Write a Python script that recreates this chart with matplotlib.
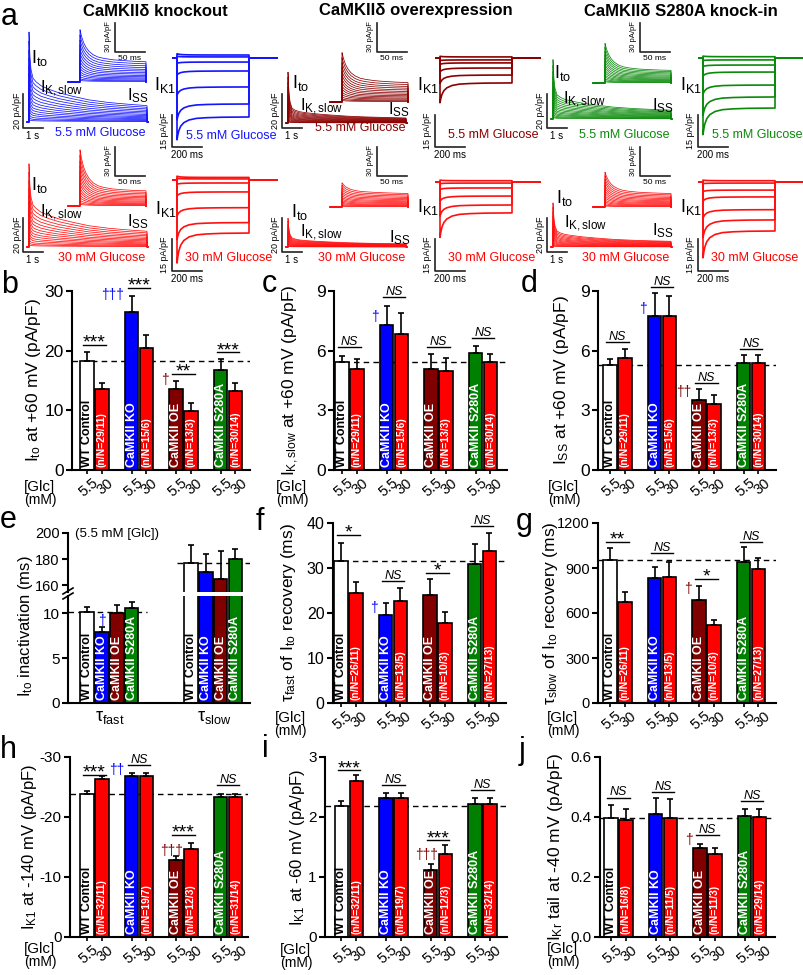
import matplotlib.pyplot as plt
from matplotlib.lines import Line2D
from matplotlib import transforms

plt.rcParams['font.family'] = ['Liberation Sans', 'DejaVu Sans']
plt.rcParams['mathtext.fontset'] = 'custom'
plt.rcParams['mathtext.rm'] = 'Liberation Sans'
plt.rcParams['mathtext.it'] = 'Liberation Sans:italic'
plt.rcParams['mathtext.bf'] = 'Liberation Sans:bold'

W, H = 804, 975
fig = plt.figure(figsize=(W / 100, H / 100), dpi=100)

BLUE = '#0000ff'
DRED = '#800000'
GREEN = '#008000'
RED = '#ff0000'

# ---------------- panel a : current traces ----------------
# shape of the top sweep (fast = Ito part, slow = IK,slow + Iss)
main_t = [0, 0.02, 0.05, 0.1, 0.2, 0.35, 0.6, 1.0, 1.5, 2.2, 3.0, 4.0, 5.0, 5.9]      # s
main_fast = [1, 0.75, 0.45, 0.22, 0.06, 0.02, 0, 0, 0, 0, 0, 0, 0, 0]
main_slow = [1, 0.99, 0.98, 0.96, 0.93, 0.89, 0.82, 0.74, 0.66, 0.58, 0.5, 0.44, 0.4, 0.37]
inset_t = [0, 1, 3, 6, 10, 15, 22, 30, 40, 55, 70, 90, 110]                           # ms
inset_fast = [1, 0.9, 0.74, 0.56, 0.4, 0.27, 0.16, 0.09, 0.05, 0.02, 0.01, 0, 0]
inset_slow = [1, 1, 1, 0.99, 0.99, 0.98, 0.97, 0.96, 0.95, 0.93, 0.91, 0.89, 0.87]
sweep_scale = [1.0, 0.9, 0.8, 0.71, 0.62, 0.54, 0.46, 0.39, 0.32, 0.26, 0.2, 0.15, 0.1, 0.06, 0.03]

# amplitudes (pA/pF) of the top sweep, columns KO / OE / S280A
main_fast_55 = [27, 22, 21]
main_slow_55 = [26, 8, 14]
main_fast_30 = [24, 12, 17]
main_slow_30 = [25, 5, 9]
inset_fast_55 = [30, 28, 26]
inset_slow_55 = [24, 23, 15]
inset_fast_30 = [40, 9, 20]
inset_slow_30 = [18, 16, 16]

# IK1 families: peak and end-of-step current per sweep (pA/pF)
ik1_t = [0, 5, 12, 25, 45, 80, 130, 200, 300, 480]                                   # ms
ik1_frac = [1, 0.8, 0.6, 0.4, 0.25, 0.13, 0.06, 0.03, 0.01, 0]
ik1_peak = {
    (0, 0): [-38.4, -29, -17.5, -8, -2.5, 0.8, 2.0],
    (0, 1): [-21, -12, -6.5, -3, -1.2, 0.8],
    (0, 2): [-36, -27, -17, -8.5, -4, -1.2, 0.9],
    (1, 0): [-39, -28, -17, -7.5, -2, 0.8, 1.8],
    (1, 1): [-26, -16, -9, -3.5, -0.8, 0.9],
    (1, 2): [-35.6, -26, -17, -9, -4.5, -0.8, 0.9],
}
ik1_end = {
    (0, 0): [-27.7, -21.6, -13.6, -6.1, -1.9, 0.5, 1.4],
    (0, 1): [-11.7, -8.0, -4.7, -2.3, -0.9, 0.5],
    (0, 2): [-23.5, -18.3, -12.7, -6.6, -3.3, -0.9, 0.6],
    (1, 0): [-24.9, -20.0, -13.0, -5.6, -1.4, 0.5, 1.2],
    (1, 1): [-14.5, -10.8, -6.6, -2.8, -0.5, 0.6],
    (1, 2): [-23, -17.8, -13, -7, -3.8, -0.5, 0.6],
}

col_titles = ['CaMKIIδ knockout', 'CaMKIIδ overexpression', 'CaMKIIδ S280A knock-in']
trace_colors = [['#1414ff', '#8b0000', '#0a8a0a'], ['#ff1010', '#ff1010', '#ff1010']]
glc_names = ['5.5 mM Glucose', '30 mM Glucose']

# ---------------- bar panels data ----------------
pos = [0, 1, 3, 4, 6, 7, 9, 10]
glc_ticks = ['5.5', '30'] * 4
bar_faces = ['white', RED, BLUE, RED, DRED, RED, GREEN, RED]
group_names = ['WT Control', 'CaMKII KO', 'CaMKII OE', 'CaMKII S280A']
group_txt = ['black', 'white', 'white', 'white']

b_vals = [18.3, 13.5, 26.4, 20.5, 13.6, 9.9, 16.75, 13.2]
b_errs = [1.5, 1.1, 2.8, 2.1, 1.4, 1.4, 1.85, 1.4]
c_vals = [5.42, 5.08, 7.29, 6.82, 5.08, 4.99, 5.87, 5.45]
c_errs = [0.33, 0.49, 0.97, 1.07, 0.74, 0.63, 0.36, 0.37]
d_vals = [5.28, 5.65, 7.74, 7.74, 3.52, 3.32, 5.39, 5.36]
d_errs = [0.30, 0.43, 1.14, 1.02, 0.53, 0.45, 0.38, 0.41]
e_fast = [10.1, 7.9, 10.0, 10.6]
e_fast_err = [0.6, 0.5, 0.9, 0.6]
e_slow = [177, 170, 165, 180]
e_slow_err = [14, 14, 21, 8]
f_vals = [31.6, 24.4, 19.6, 22.7, 24.1, 17.7, 31.0, 33.8]
f_errs = [4.0, 2.6, 2.7, 2.8, 3.4, 2.5, 4.3, 4.0]
g_vals = [953, 671, 831, 842, 687, 523, 942, 893]
g_errs = [82, 71, 78, 96, 93, 33, 96, 76]
h_vals = [23.8, 26.3, 26.9, 26.9, 12.8, 14.6, 23.3, 23.3]
h_errs = [0.6, 0.5, 0.5, 0.5, 0.7, 1.1, 0.5, 0.5]
i_vals = [2.18, 2.60, 2.32, 2.32, 1.11, 1.39, 2.22, 2.22]
i_errs = [0.09, 0.10, 0.08, 0.08, 0.11, 0.14, 0.09, 0.09]
j_vals = [0.398, 0.389, 0.409, 0.397, 0.297, 0.278, 0.403, 0.399]
j_errs = [0.041, 0.039, 0.054, 0.063, 0.014, 0.020, 0.025, 0.029]

nn_bcd = ['(n/N=29/11)', '(n/N=15/6)', '(n/N=13/3)', '(n/N=30/14)']
nn_fg = ['(n/N=26/11)', '(n/N=13/5)', '(n/N=10/3)', '(n/N=27/13)']
nn_h = ['(n/N=32/11)', '(n/N=19/7)', '(n/N=12/3)', '(n/N=31/14)']
nn_i = ['(n/N=32/11)', '(n/N=19/7)', '(n/N=12/3)', '(n/N=32/14)']
nn_j = ['(n/N=16/8)', '(n/N=11/5)', '(n/N=11/3)', '(n/N=29/14)']

# significance: (group, height, label)
b_sig = [(0, 21.0, '***'), (1, 30.5, '***'), (2, 16.1, '**'), (3, 19.7, '***')]
c_sig = [(0, 6.2, 'NS'), (1, 8.7, 'NS'), (2, 6.2, 'NS'), (3, 6.63, 'NS')]
d_sig = [(0, 6.42, 'NS'), (1, 9.22, 'NS'), (2, 4.36, 'NS'), (3, 6.06, 'NS')]
f_sig = [(0, 37.3, '*'), (1, 27.2, 'NS'), (2, 29.0, '*'), (3, 39.3, 'NS')]
g_sig = [(0, 1075, '**'), (1, 1000, 'NS'), (2, 827, '*'), (3, 1075, 'NS')]
h_sig = [(0, 27.0, '***'), (1, 28.7, 'NS'), (2, 17.0, '***'), (3, 25.3, 'NS')]
i_sig = [(0, 2.78, '***'), (1, 2.53, 'NS'), (2, 1.61, '***'), (3, 2.45, 'NS')]
j_sig = [(0, 0.465, 'NS'), (1, 0.483, 'NS'), (2, 0.339, 'NS'), (3, 0.453, 'NS')]

# daggers vs WT control: (x, height, label, colour, align)
b_dag = [(2.5, 29.4, '†††', BLUE, 'right'), (5.5, 15.1, '†', DRED, 'right')]
c_dag = [(2.5, 7.7, '†', BLUE, 'right')]
d_dag = [(2.5, 8.09, '†', BLUE, 'right'), (5.5, 3.92, '††', DRED, 'right')]
f_dag = [(2.5, 21.1, '†', BLUE, 'right')]
g_dag = [(5.5, 760, '†', DRED, 'right')]
h_dag = [(2.5, 27.8, '††', BLUE, 'right'), (5.7, 14.4, '†††', DRED, 'center')]
i_dag = [(5.7, 1.37, '†††', DRED, 'center')]
j_dag = [(5.5, 0.323, '†', DRED, 'right')]


def px_axes(x0, y0, x1, y1):
    return fig.add_axes([x0 / W, 1 - y1 / H, (x1 - x0) / W, (y1 - y0) / H])


def ftext(x, y, s, **kw):
    kw.setdefault('ha', 'center')
    kw.setdefault('va', 'center')
    return fig.text(x / W, 1 - y / H, s, **kw)


def pline(xs, ys, **kw):
    fig.add_artist(Line2D([x / W for x in xs], [1 - y / H for y in ys],
                          transform=fig.transFigure, **kw))


def trace_ax(box, ox, oy, sx, sy):
    x0, y0, x1, y1 = box
    ax = px_axes(x0, y0, x1, y1)
    ax.set_xlim((x0 - ox) / sx, (x1 - ox) / sx)
    ax.set_ylim((oy - y1) / sy, (oy - y0) / sy)
    ax.axis('off')
    return ax


def draw_ito(ax, t, fast, slow, a_fast, a_slow, color, t_pre, t_post):
    for s in sweep_scale[::-1]:
        y = [s * (a_fast * f + a_slow * g) for f, g in zip(fast, slow)]
        ax.plot([t_pre, t[0]] + t + [t[-1], t_post], [0, 0] + y + [0, 0],
                color=color, lw=0.55, solid_joinstyle='miter')


def draw_ik1(ax, peaks, ends, color):
    for p, e in zip(peaks, ends):
        y = [e + (p - e) * f for f in ik1_frac]
        ax.plot([-27, 0] + ik1_t + [480, 667], [0, 0] + y + [0, 0], color=color, lw=1.2)


# layout of the trace blocks (pixel anchors)
main_ox = [29, 288, 553]
main_oy = [[122, 123, 119], [247, 247, 247]]
inset_ox = [80, 342, 605]
inset_oy = [[82, 102, 83], [206, 207, 207]]
ik1_ox = [177, 440, 703]
ik1_oy = [[58, 58, 58], [180, 182, 182]]
row_off = [0, 124]
ito_xy = [[(40, 58), (301, 83), (563, 73)], [(40, 185), (300, 212), (565, 198)]]
kslow_xy = [[(62, 89), (322, 107), (585, 100)], [(62, 213), (322, 233), (586, 224)]]
iss_xy = [[(138, 96), (399, 110), (663, 106)], [(138, 222), (400, 238), (663, 231)]]
ik1_xy = [[(165, 85), (428, 85), (691, 85)], [(166, 209), (428, 207), (691, 207)]]
glc_main_xy = [[(100, 133), (360, 128), (624, 135)], [(102, 258), (362, 258), (626, 258)]]
glc_ik1_xy = [[(231, 136), (493, 135), (757, 135)], [(229, 258), (492, 258), (755, 258)]]
title_x = [155, 416, 681]

SB = dict(color='#222222', lw=1.2)
for c in range(3):
    ftext(title_x[c], 11, col_titles[c], fontsize=12, fontweight='bold')
    for r in range(2):
        ro = row_off[r]
        col = trace_colors[r][c]
        af = [main_fast_55, main_fast_30][r][c]
        asl = [main_slow_55, main_slow_30][r][c]
        ax = trace_ax((main_ox[c] - 20, ro + 20, main_ox[c] + 125, ro + 150),
                      main_ox[c], main_oy[r][c], 20, 1.7)
        draw_ito(ax, main_t, main_fast, main_slow, af, asl, col, -0.1, 5.95)
        bx = main_ox[c] - 6
        pline([bx, bx, bx + 20], [ro + 94, ro + 128, ro + 128], **SB)
        ftext(bx - 6, ro + 111, '20 pA/pF', fontsize=6.5, rotation=90)
        ftext(bx + 10, ro + 136, '1 s', fontsize=7)

        af = [inset_fast_55, inset_fast_30][r][c]
        asl = [inset_slow_55, inset_slow_30][r][c]
        ax = trace_ax((inset_ox[c] - 15, ro + 15, inset_ox[c] + 75, ro + 105),
                      inset_ox[c], inset_oy[r][c], 0.6, 0.97)
        draw_ito(ax, inset_t, inset_fast, inset_slow, af, asl, col, -20, 110)
        bx = inset_ox[c] + 35
        pline([bx, bx, bx + 30], [ro + 23, ro + 52, ro + 52], **SB)
        ftext(bx - 6, ro + 37, '30 pA/pF', fontsize=5.5, rotation=90)
        ftext(bx + 15, ro + 58, '50 ms', fontsize=6)

        ax = trace_ax((ik1_ox[c] - 15, ro + 40, ik1_ox[c] + 105, ro + 165),
                      ik1_ox[c], ik1_oy[r][c], 0.15, 2.13)
        draw_ik1(ax, ik1_peak[(r, c)], ik1_end[(r, c)], col)
        bx = ik1_ox[c] - 5
        pline([bx, bx, bx + 30], [ro + 115, ro + 147, ro + 147], **SB)
        ftext(bx - 7, ro + 131, '15 pA/pF', fontsize=6.5, rotation=90)
        ftext(bx + 15, ro + 155, '200 ms', fontsize=7)

        ftext(*ito_xy[r][c], r'I$_{\rm to}$', fontsize=13)
        ftext(*kslow_xy[r][c], r'I$_{\rm K,slow}$', fontsize=12)
        ftext(*iss_xy[r][c], r'I$_{\rm SS}$', fontsize=12)
        ftext(*ik1_xy[r][c], r'I$_{\rm K1}$', fontsize=13)
        glc_col = [trace_colors[0][c], RED][r]
        ftext(*glc_main_xy[r][c], glc_names[r], fontsize=9, color=glc_col)
        ftext(*glc_ik1_xy[r][c], glc_names[r], fontsize=9, color=glc_col)

# ---------------- bar panels ----------------
UNIT = 14.85
shift = transforms.ScaledTranslation(0.05, 0, fig.dpi_scale_trans)


def style_axes(ax, tick_fs):
    ax.spines[['top', 'right']].set_visible(False)
    ax.spines[['left', 'bottom']].set_linewidth(1.5)
    ax.tick_params(axis='y', length=4, width=1.5, pad=2, labelsize=tick_fs)
    ax.tick_params(axis='x', length=3, width=1.2, pad=1)


def bar_labels(ax, xs, labels, colors, fs):
    for x, s, col in zip(xs, labels, colors):
        ax.annotate(s, (x, 0), xytext=(0, 2.5), textcoords='offset points', rotation=90,
                    ha='center', va='bottom', fontsize=fs, fontweight='bold', color=col)


def glc_panel(box, xc0, vals, errs, ylim, yticks, ytl, tick_fs, nn, sig, dag,
              ylabel, ylab_x, glc_xy, sign=1, ylab_fs=12.5):
    x_sp, y_top, x_end, y_bot = box
    ax = px_axes(x_sp, y_top, x_end, y_bot)
    ax.set_xlim((x_sp - xc0) / UNIT, (x_end - xc0) / UNIT)
    hts = [sign * v for v in vals]
    ax.bar(pos, hts, width=0.92, color=bar_faces, edgecolor='k', linewidth=1.2, zorder=2)
    lo = [0] * len(errs)
    yerr = [lo, errs] if sign > 0 else [errs, lo]
    ax.errorbar(pos, hts, yerr=yerr, fmt='none', ecolor='k', elinewidth=1.2,
                capsize=2.5, capthick=1.2, zorder=3)
    ax.axhline(hts[0], color='k', lw=1, ls=(0, (4, 3)), zorder=1)
    ax.set_ylim(ylim)
    ax.set_yticks(yticks)
    ax.set_yticklabels(ytl)
    style_axes(ax, tick_fs)
    ax.set_xticks(pos)
    ax.set_xticklabels(glc_ticks, fontsize=10.5, rotation=40, ha='right',
                       rotation_mode='anchor')
    for lab in ax.get_xticklabels():
        lab.set_transform(lab.get_transform() + shift)
    bar_labels(ax, pos[0::2], group_names, group_txt, 9)
    bar_labels(ax, pos[1::2], nn, ['white'] * 4, 7.5)
    for g, yv, s in sig:
        x0, x1 = 3 * g - 0.25, 3 * g + 1.25
        yv = sign * yv
        ax.plot([x0, x1], [yv, yv], color='k', lw=1, clip_on=False, zorder=4)
        if s == 'NS':
            ax.annotate(s, ((x0 + x1) / 2, yv), xytext=(0, 1.5), textcoords='offset points',
                        ha='center', va='baseline', fontsize=9, style='italic',
                        annotation_clip=False)
        else:
            ax.annotate(s, ((x0 + x1) / 2, yv), xytext=(0, -2), textcoords='offset points',
                        ha='center', va='baseline', fontsize=14, annotation_clip=False)
    for x, yv, s, col, ha in dag:
        ax.annotate(s, (x, sign * yv), ha=ha, va='center', fontsize=10, color=col,
                    annotation_clip=False)
    ftext(ylab_x, (y_top + y_bot) / 2, ylabel, fontsize=ylab_fs, rotation=90)
    ftext(glc_xy[0], glc_xy[1], '[Glc]', fontsize=11)
    ftext(glc_xy[0], glc_xy[1] + 13, '(mM)', fontsize=10)
    return ax


glc_panel((72, 291, 250, 470), 87, b_vals, b_errs, (0, 30), [0, 10, 20, 30],
          ['0', '10', '20', '30'], 12.5, nn_bcd, b_sig, b_dag,
          r'I$_{\rm to}$ at +60 mV (pA/pF)', 34, (40, 487))
glc_panel((334, 291, 507, 470), 342, c_vals, c_errs, (0, 9), [0, 3, 6, 9],
          ['0', '3', '6', '9'], 12.5, nn_bcd, c_sig, c_dag,
          r'I$_{\rm K,slow}$ at +60 mV (pA/pF)', 291, (292, 487))
glc_panel((598, 291, 776, 470), 610, d_vals, d_errs, (0, 9), [0, 3, 6, 9],
          ['0', '3', '6', '9'], 12.5, nn_bcd, d_sig, d_dag,
          r'I$_{\rm SS}$ at +60 mV (pA/pF)', 562, (564, 487))
glc_panel((333, 523, 506, 703), 341, f_vals, f_errs, (0, 40), [0, 10, 20, 30, 40],
          ['0', '10', '20', '30', '40'], 11.5, nn_fg, f_sig, f_dag,
          r'τ$_{\rm fast}$ of I$_{\rm to}$ recovery (ms)', 289, (290, 718))
glc_panel((598, 523, 776, 703), 610, g_vals, g_errs, (0, 1200), [0, 300, 600, 900, 1200],
          ['0', '300', '600', '900', '1200'], 10.5, nn_fg, g_sig, g_dag,
          r'τ$_{\rm slow}$ of I$_{\rm to}$ recovery (ms)', 550, (563, 718))
glc_panel((70, 757, 248, 937), 87, h_vals, h_errs, (0, -30), [0, -10, -20, -30],
          ['0', '-10', '-20', '-30'], 11, nn_h, h_sig, h_dag,
          r'I$_{\rm K1}$ at -140 mV (pA/pF)', 30, (40, 949), sign=-1, ylab_fs=12)
glc_panel((325, 757, 507, 937), 341.5, i_vals, i_errs, (0, 3), [0, 1, 2, 3],
          ['0', '1', '2', '3'], 11, nn_i, i_sig, i_dag,
          r'I$_{\rm K1}$ at -60 mV (pA/pF)', 298, (296, 950), ylab_fs=12)
glc_panel((600, 757, 775, 937), 611, j_vals, j_errs, (0, 0.6), [0, 0.2, 0.4, 0.6],
          ['0.0', '0.2', '0.4', '0.6'], 11, nn_j, j_sig, j_dag,
          r'I$_{\rm Kr}$ tail at -40 mV (pA/pF)', 556, (563, 949))

# ---------------- panel e : broken axis ----------------
e_pos_fast = [0, 1, 2, 3]
e_pos_slow = [7, 8, 9, 10]
e_faces = ['white', BLUE, DRED, GREEN]
e_xlim = ((68 - 87) / UNIT, (250 - 87) / UNIT)
ax_lo = px_axes(68, 596, 250, 703)
ax_hi = px_axes(68, 533, 250, 592)
for ax in (ax_lo, ax_hi):
    ax.bar(e_pos_fast, e_fast, width=0.92, color=e_faces, edgecolor='k', linewidth=1.2, zorder=2)
    ax.bar(e_pos_slow, e_slow, width=0.92, color=e_faces, edgecolor='k', linewidth=1.2, zorder=2)
    ax.errorbar(e_pos_fast, e_fast, yerr=[[0] * 4, e_fast_err], fmt='none', ecolor='k',
                elinewidth=1.2, capsize=2.5, capthick=1.2, zorder=3)
    ax.errorbar(e_pos_slow, e_slow, yerr=[[0] * 4, e_slow_err], fmt='none', ecolor='k',
                elinewidth=1.2, capsize=2.5, capthick=1.2, zorder=3)
    ax.set_xlim(e_xlim)
    style_axes(ax, 11)
    ax.set_xticks([])
ax_lo.set_ylim(0, 11.9)
ax_lo.set_yticks([0, 5, 10])
ax_lo.plot([e_xlim[0], 4.05], [e_fast[0]] * 2, color='k', lw=1, ls=(0, (4, 3)), zorder=1)
ax_hi.set_ylim(155, 200)
ax_hi.set_yticks([160, 180, 200])
ax_hi.tick_params(axis='y', labelsize=10.5)
ax_hi.spines['bottom'].set_visible(False)
ax_hi.plot([6.05, e_xlim[1]], [e_slow[0]] * 2, color='k', lw=1, ls=(0, (4, 3)), zorder=1)
bar_labels(ax_lo, e_pos_fast, group_names, group_txt, 9)
bar_labels(ax_lo, e_pos_slow, group_names, group_txt, 9)
ax_lo.annotate('†', (1, 9.1), ha='center', va='center', fontsize=10, color=BLUE)
for yb in (591, 596):
    pline([63, 73], [yb + 3, yb - 3], color='k', lw=1.2)
ftext(75, 534, '(5.5 mM [Glc])', fontsize=9.5, ha='left')
ftext(110, 718, r'τ$_{\rm fast}$', fontsize=13)
ftext(214, 718, r'τ$_{\rm slow}$', fontsize=13)
ftext(26, 626, r'I$_{\rm to}$ inactivation (ms)', fontsize=12, rotation=90)

# panel letters
letters = ['a', 'b', 'c', 'd', 'e', 'f', 'g', 'h', 'i', 'j']
letter_xy = [(1, 25), (1, 293), (262, 292), (521, 292), (0, 528), (256, 530),
             (516, 530), (0, 758), (262, 757), (519, 759)]
for s, (x, y) in zip(letters, letter_xy):
    ftext(x, y, s, fontsize=22, ha='left', va='baseline')

fig.savefig('out.png', dpi=100)
